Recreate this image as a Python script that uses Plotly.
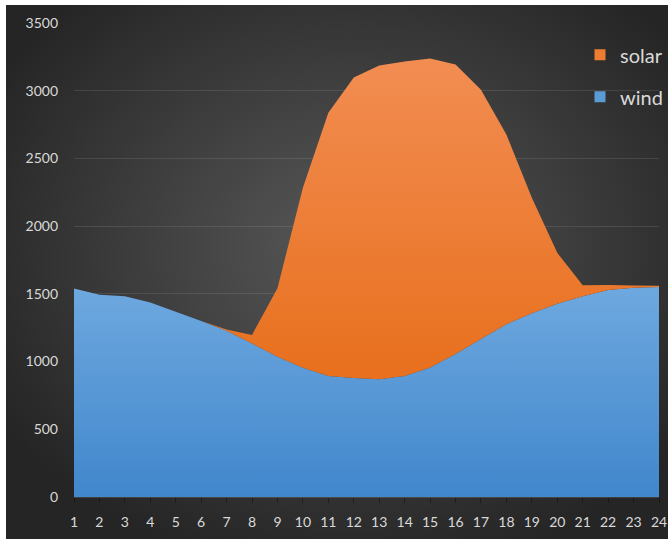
import base64
import plotly.graph_objects as go

# Hourly generation profile
hours = list(range(1, 25))
wind = [1540, 1493, 1483, 1436, 1367, 1300, 1228, 1134, 1035, 954, 893, 878,
        870, 894, 956, 1055, 1166, 1276, 1357, 1427, 1482, 1528, 1545, 1550]
solar = [0, 0, 0, 0, 0, 0, 8, 63, 507, 1330, 1945, 2219,
         2316, 2321, 2281, 2138, 1842, 1400, 853, 376, 81, 37, 17, 10]
y_ticks = [0, 500, 1000, 1500, 2000, 2500, 3000, 3500]

BLUE = "#5b9bd5"
ORANGE = "#ed7d31"
TEXT = "#d9d9d9"
FONT = "Lato"

# Dark radial backdrop as an inline SVG
svg = (
    '<svg xmlns="http://www.w3.org/2000/svg" width="662" height="534" '
    'preserveAspectRatio="none">'
    '<defs><radialGradient id="g" cx="0.52" cy="0.45" r="0.62">'
    '<stop offset="0" stop-color="#585858"/>'
    '<stop offset="0.55" stop-color="#3c3c3c"/>'
    '<stop offset="1" stop-color="#252525"/>'
    '</radialGradient></defs>'
    '<rect width="662" height="534" fill="url(#g)"/></svg>'
)
bg_src = "data:image/svg+xml;base64," + base64.b64encode(svg.encode()).decode()

fig = go.Figure()

fig.add_trace(go.Scatter(
    x=hours, y=wind, name="wind", stackgroup="one", mode="none",
    legendgroup="wind", showlegend=False,
    fillgradient=dict(type="vertical", start=0, stop=1550,
                      colorscale=[[0, "#4187cc"], [1, "#6ea8df"]]),
))
fig.add_trace(go.Scatter(
    x=hours, y=solar, name="solar", stackgroup="one", mode="none",
    legendgroup="solar", showlegend=False,
    fillgradient=dict(type="vertical", start=900, stop=3240,
                      colorscale=[[0, "#e8701e"], [1, "#f28d52"]]),
))

# Legend swatches
fig.add_trace(go.Scatter(
    x=[None], y=[None], mode="markers", name="solar", legendgroup="solar",
    marker=dict(symbol="square", size=11, color=ORANGE),
))
fig.add_trace(go.Scatter(
    x=[None], y=[None], mode="markers", name="wind", legendgroup="wind",
    marker=dict(symbol="square", size=11, color=BLUE),
))

fig.update_layout(
    width=668, height=542,
    margin=dict(l=74, r=9, t=23, b=45, autoexpand=False),
    paper_bgcolor="white",
    plot_bgcolor="rgba(0,0,0,0)",
    font=dict(family=FONT, color=TEXT, size=14),
    showlegend=True,
    legend=dict(
        x=(668 - 74) / 585, y=0.974, xanchor="right", yanchor="top",
        bgcolor="rgba(0,0,0,0)",
        font=dict(family=FONT, size=20, color=TEXT),
        traceorder="grouped", tracegroupgap=13,
    ),
    images=[dict(
        source=bg_src, xref="paper", yref="paper",
        x=(6 - 74) / 585, y=(497 - 5) / 474,
        sizex=662 / 585, sizey=534 / 474,
        xanchor="left", yanchor="top", sizing="stretch", layer="below",
    )],
)

fig.update_xaxes(
    range=[1, 24], tickmode="array", tickvals=hours,
    ticktext=[str(h) for h in hours],
    showgrid=False, zeroline=False,
    showline=True, linecolor="rgba(255,255,255,0.12)", linewidth=1,
    ticks="outside", ticklen=5, tickcolor="rgba(0,0,0,0.35)",
    ticklabelstandoff=7,
    tickfont=dict(family=FONT, size=14, color=TEXT),
)
fig.update_yaxes(
    range=[0, 3500], tickmode="array", tickvals=y_ticks,
    showgrid=True, gridcolor="rgba(255,255,255,0.10)", gridwidth=1,
    zeroline=False, showline=False, ticks="",
    ticklabelstandoff=15,
    tickfont=dict(family=FONT, size=14, color=TEXT),
)

fig.write_html("out.html")
